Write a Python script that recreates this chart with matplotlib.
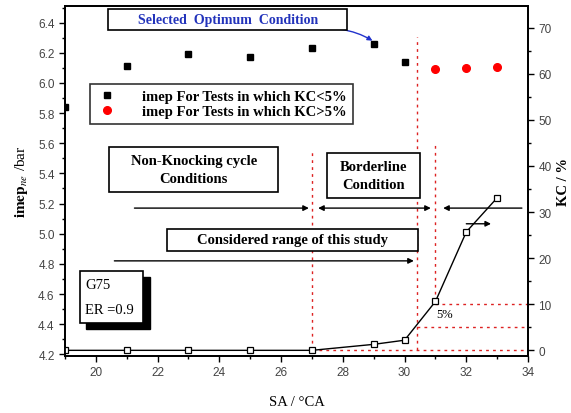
import numpy as np
import matplotlib
matplotlib.use("Agg")
import matplotlib.pyplot as plt
from matplotlib.ticker import MultipleLocator
from matplotlib.patches import Rectangle

plt.rcParams["mathtext.fontset"] = "stix"

# imep (left axis)
sa_ok = [19, 21, 23, 25, 27, 29, 30]
imep_ok = [5.84, 6.11, 6.19, 6.17, 6.23, 6.26, 6.14]
sa_knock = [31, 32, 33]
imep_knock = [6.095, 6.10, 6.105]

# knock cycles (right axis)
sa_kc = [19, 21, 23, 25, 27, 29, 30, 31, 32, 33]
kc = [0, 0, 0, 0, 0, 1.3, 2.2, 10.6, 25.7, 33.1]

serif = "Liberation Serif"
sans = "Liberation Sans"

fig = plt.figure(figsize=(5.71, 4.14), dpi=100)
ax = fig.add_axes([0.1138, 0.138, 0.811, 0.845])
ax2 = ax.twinx()

ax.set_xlim(19, 34)
ax.set_ylim(4.19, 6.51)
ax2.set_ylim(-1.2, 74.7)

ax.xaxis.set_major_locator(MultipleLocator(2))
ax.xaxis.set_minor_locator(MultipleLocator(1))
ax.yaxis.set_major_locator(MultipleLocator(0.2))
ax.yaxis.set_minor_locator(MultipleLocator(0.1))
ax2.yaxis.set_major_locator(MultipleLocator(10))
ax2.yaxis.set_minor_locator(MultipleLocator(5))

for a in (ax, ax2):
    a.tick_params(which="both", direction="out", labelsize=8.5, labelcolor="#444444", width=1)
    a.tick_params(which="major", length=4)
    a.tick_params(which="minor", length=2)
    for lab in a.get_xticklabels() + a.get_yticklabels():
        lab.set_fontfamily(sans)
    for s in a.spines.values():
        s.set_linewidth(1.3)
ax.tick_params(top=False, right=False)
ax2.tick_params(top=False)

ax.set_xlabel("SA / °CA", fontfamily=serif, fontsize=10.5, labelpad=12)
ax.set_ylabel(r"$\mathbf{imep}_{ne}$ /bar", fontfamily=serif, fontsize=11, labelpad=6)
ax2.set_ylabel("KC / %", fontfamily=serif, fontsize=10.5, fontweight="bold", labelpad=4)

# imep points
ax.plot(sa_ok, imep_ok, "s", color="black", ms=4.5, zorder=5,
        label="imep For Tests in which KC<5%")
ax.plot(sa_knock, imep_knock, "o", color="red", ms=5.5, zorder=5,
        label="imep For Tests in which KC>5%")

# knock curve
ax2.plot(sa_kc, kc, "-", color="black", lw=1, zorder=4)
ax2.plot(sa_kc, kc, "s", mfc="white", mec="black", mew=0.9, ms=4, zorder=5)

# red guide lines
red = dict(color="#dd2222", ls=(0, (2, 3)), lw=1)
ax2.plot([27, 27], [0, 43.7], **red)
ax2.plot([30.4, 30.4], [0, 67.9], **red)
ax2.plot([31, 31], [10.6, 45.2], **red)
ax2.plot([31, 34], [10, 10], **red)
ax2.plot([30.4, 34], [5, 5], **red)
ax2.plot([27, 34], [0, 0], **red)

# black arrows
arw = dict(arrowstyle="-|>", color="black", lw=1, mutation_scale=8, shrinkA=0, shrinkB=0)
ax.annotate("", xy=(26.9, 5.17), xytext=(21.25, 5.17), arrowprops=arw)
ax.annotate("", xy=(30.85, 5.17), xytext=(27.2, 5.17),
            arrowprops=dict(arw, arrowstyle="<|-|>"))
ax.annotate("", xy=(31.25, 5.17), xytext=(33.8, 5.17), arrowprops=arw)
ax.annotate("", xy=(30.3, 4.82), xytext=(20.6, 4.82), arrowprops=arw)
ax.annotate("", xy=(32.8, 5.066), xytext=(32.0, 5.066), arrowprops=arw)

# blue arrow to optimum
ax.annotate("", xy=(28.96, 6.28), xytext=(27.93, 6.356),
            arrowprops=dict(arrowstyle="-|>", color="#2233cc", lw=1, mutation_scale=7,
                            shrinkA=0, shrinkB=0, connectionstyle="arc3,rad=-0.1"))


def label_box(x0, x1, y0, y1, text, size, color="black", weight="bold", ls=1.5, shadow=False):
    if shadow:
        ax.add_patch(Rectangle((x0 + 0.2, y0 - 0.04), x1 - x0, y1 - y0, fc="black",
                               ec="black", zorder=6))
    ax.add_patch(Rectangle((x0, y0), x1 - x0, y1 - y0, fc="white", ec="black",
                           lw=1.2, zorder=6))
    ax.text((x0 + x1) / 2, (y0 + y1) / 2, text, ha="center", va="center",
            fontfamily=serif, fontsize=size, fontweight=weight, color=color,
            linespacing=ls, zorder=7)


label_box(20.40, 28.15, 6.349, 6.488, "Selected  Optimum  Condition", 10, color="#2233bb")
label_box(20.43, 25.91, 5.276, 5.574, "Non-Knocking cycle\nConditions", 10.5)
label_box(27.50, 30.50, 5.236, 5.534, "Borderline\nCondition", 10.5)
label_box(22.29, 30.43, 4.886, 5.031, "Considered range of this study", 10.5)

label_box(19.49, 21.54, 4.409, 4.753, "", 10, shadow=True)
ax.text(19.65, 4.66, "G75", ha="left", va="center", fontfamily=serif, fontsize=10.5, zorder=7)
ax.text(19.65, 4.50, "ER =0.9", ha="left", va="center", fontfamily=serif, fontsize=10.5,
        zorder=7)

ax.text(31.3, 4.47, "5%", ha="center", va="center", fontfamily=serif, fontsize=9)

leg = ax.legend(loc="upper left", bbox_to_anchor=(0.054, 0.777), frameon=True,
                fancybox=False, edgecolor="black", handletextpad=1.6, borderpad=0.4,
                labelspacing=0.15, borderaxespad=0, handlelength=1.6,
                prop={"family": serif, "size": 10.5, "weight": "bold"})
leg.get_frame().set_linewidth(1.2)
leg.set_zorder(8)
ax.set_zorder(ax2.get_zorder() + 1)
ax.patch.set_visible(False)

fig.savefig("out.png", dpi=100)
